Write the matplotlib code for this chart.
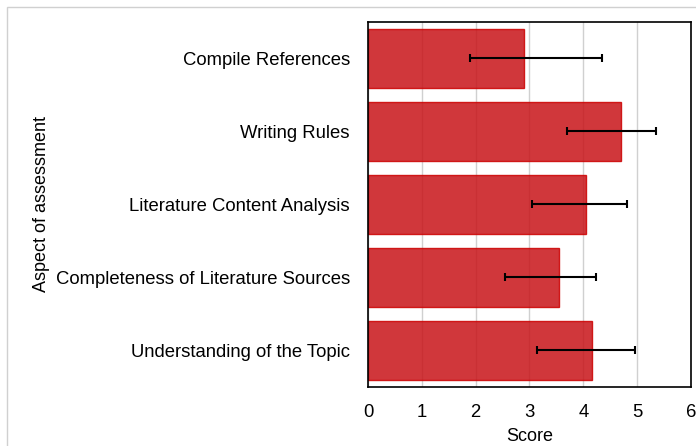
import matplotlib.pyplot as plt
from matplotlib.patches import Rectangle

plt.rcParams['font.family'] = ['Liberation Sans', 'DejaVu Sans']

aspects = [
    "Compile References",
    "Writing Rules",
    "Literature Content Analysis",
    "Completeness of Literature Sources",
    "Understanding of the Topic",
]
scores = [2.90, 4.70, 4.05, 3.55, 4.16]
err_low = [1.00, 1.00, 1.01, 1.01, 1.02]
err_high = [1.45, 0.65, 0.76, 0.69, 0.80]

fig = plt.figure(figsize=(6.96, 4.46), dpi=100)
# light frame around the chart area
fig.patches.append(Rectangle((7 / 696, -0.1), 1.2, 1.1 - 7 / 446,
                             transform=fig.transFigure, fill=False,
                             edgecolor="#d0d0d0", linewidth=1))
ax = fig.add_axes([0.5287, 0.1323, 0.4641, 0.8184])

ypos = list(range(len(aspects)))
ax.barh(ypos, scores, height=0.8, color="#C81419", alpha=0.85,
        edgecolor="#CC0000", linewidth=1, zorder=2)
ax.errorbar(scores, ypos, xerr=[err_low, err_high], fmt="none",
            ecolor="black", elinewidth=1.5, capsize=3, capthick=1.5, zorder=3)

ax.set_xlim(0, 6)
ax.set_ylim(len(aspects) - 0.5, -0.5)
ax.set_yticks(ypos)
ax.set_yticklabels(aspects, fontsize=13.3)
ax.set_xticks(range(7))
ax.tick_params(axis="x", labelsize=13.3, length=0, pad=12)
ax.tick_params(axis="y", length=0, pad=13)
ax.grid(axis="x", color="#d0d0d0", linewidth=1, zorder=1)
ax.set_axisbelow(True)
for s in ax.spines.values():
    s.set_color("black")
    s.set_linewidth(1.2)

ax.set_xlabel("Score", fontsize=13, labelpad=5)
ax.set_ylabel("Aspect of assessment", fontsize=13)
ax.yaxis.set_label_coords(-0.985, 0.5)

fig.savefig("out.png", dpi=100)
